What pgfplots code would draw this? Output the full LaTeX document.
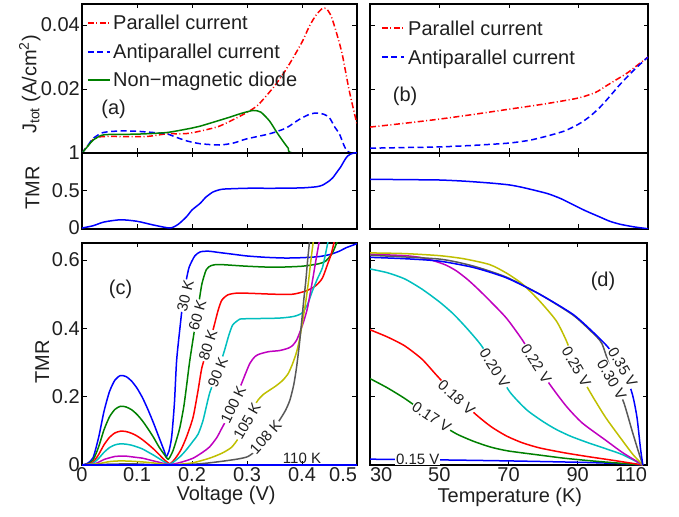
\documentclass[border=0pt]{standalone}
\usepackage{fontspec}
\setmainfont{Liberation Sans}
\usepackage{pgfplots}
\pgfplotsset{compat=1.18}
\definecolor{mblue}{rgb}{0,0,1}
\definecolor{mgreen}{rgb}{0,0.5,0}
\definecolor{mred}{rgb}{1,0,0}
\definecolor{mcyan}{rgb}{0,0.75,0.75}
\definecolor{mmag}{rgb}{0.75,0,0.75}
\definecolor{myel}{rgb}{0.75,0.75,0}
\definecolor{mgray}{rgb}{0.35,0.35,0.35}
\definecolor{txt}{rgb}{0.12,0.12,0.12}
\tikzset{
  clab/.style={font=\fontsize{15}{18}\selectfont, text=txt, fill=white, inner sep=0.8pt},
  plab/.style={text=txt},
  ltxt/.style={anchor=base west, yshift=-7pt, inner sep=0pt, text=txt},
  pdash/.style={dash pattern=on 6pt off 2.5pt on 1pt off 2.5pt},
  adash/.style={dash pattern=on 6pt off 3.5pt},
}
\pgfplotsset{
  base/.style={scale only axis, anchor=south west,
    axis line style={line width=1.1pt, black},
    tick style={line width=0.7pt, black},
    tick align=inside, major tick length=4.5pt,
    every tick label/.append style={text=txt},
    yticklabel style={inner sep=2pt},
    xticklabel style={inner sep=2.5pt},
    every axis label/.append style={text=txt}},
  crv/.style={line width=1.5pt, smooth, tension=0.4},
  lsample/.style={line width=1.6pt, forget plot},
}
\begin{document}
\fontsize{20}{24}\selectfont
\begin{tikzpicture}
\useasboundingbox (0,0) rectangle (679pt,516pt);
% ---------------- (a) J
\begin{axis}[base, at={(82pt,363pt)}, width=275pt, height=149pt,
  xmin=0, xmax=0.5, ymin=0, ymax=0.0466,
  xtick={0.1,0.2,0.3,0.4}, xticklabel=\empty,
  ytick={0.02,0.04}, yticklabels={0.02,0.04},
  ylabel={J\textsubscript{tot} (A/cm\textsuperscript{2})},
  ylabel style={at={(axis description cs:-0.19,0.46)}, anchor=center}]
\addplot[crv, color=mred, pdash] coordinates {
(0,0) (0.01,0.0022) (0.02,0.0042) (0.03,0.0050) (0.05,0.0052) (0.08,0.0051) (0.12,0.0052) (0.154,0.0060) (0.18,0.0060) (0.2,0.0063) (0.245,0.0081) (0.27,0.0100) (0.299,0.0126) (0.32,0.0150) (0.348,0.0205) (0.365,0.0245) (0.383,0.0295) (0.401,0.0350) (0.413,0.0395) (0.425,0.0430) (0.437,0.0452) (0.445,0.0450) (0.453,0.0428) (0.462,0.0380) (0.473,0.0310) (0.486,0.0194) (0.5,0.0090)};
\addplot[crv, color=mblue, adash] coordinates {
(0,0) (0.01,0.0022) (0.02,0.0045) (0.035,0.0062) (0.05,0.0067) (0.075,0.0069) (0.10,0.0068) (0.13,0.0064) (0.154,0.0060) (0.17,0.0050) (0.19,0.0038) (0.215,0.0029) (0.25,0.0025) (0.275,0.0031) (0.299,0.0044) (0.341,0.0060) (0.371,0.0078) (0.395,0.0105) (0.415,0.0122) (0.428,0.0125) (0.44,0.0121) (0.45,0.0110) (0.46,0.0080) (0.468,0.0060) (0.476,0.0025) (0.482,0.0006) (0.49,0) (0.5,0)};
\addplot[crv, color=mgreen] coordinates {
(0,0) (0.01,0.0020) (0.02,0.0040) (0.035,0.0055) (0.05,0.0058) (0.1,0.0059) (0.154,0.0064) (0.2,0.0078) (0.215,0.0084) (0.263,0.0109) (0.29,0.0124) (0.311,0.0133) (0.325,0.0128) (0.341,0.0100) (0.354,0.0065) (0.365,0.0038) (0.375,0.0015) (0.385,0) (0.5,0)};
% legend samples
\addplot[lsample, color=mred, pdash] coordinates {(0.0109,0.04066) (0.0509,0.04066)};
\addplot[lsample, color=mblue, adash] coordinates {(0.0109,0.03159) (0.0509,0.03159)};
\addplot[lsample, color=mgreen] coordinates {(0.0109,0.02283) (0.0509,0.02283)};
\node[ltxt] at (axis cs:0.0564,0.04066) {Parallel current};
\node[ltxt] at (axis cs:0.0564,0.03159) {Antiparallel current};
\node[ltxt] at (axis cs:0.0564,0.02283) {Non−magnetic diode};
\node[plab] at (axis cs:0.0575,0.01375) {(a)};
\end{axis}
% ---------------- (a) TMR
\begin{axis}[base, at={(82pt,287pt)}, width=275pt, height=76pt,
  xmin=0, xmax=0.5, ymin=-0.013, ymax=1,
  xtick={0.1,0.2,0.3,0.4}, xticklabel=\empty,
  ytick={0,0.5,1}, yticklabels={0,0.5,1},
  ylabel={TMR}, ylabel style={at={(axis description cs:-0.18,0.54)}, anchor=center}]
\addplot[crv, color=mblue] coordinates {
(0,0) (0.02,0.03) (0.04,0.08) (0.07,0.11) (0.10,0.09) (0.13,0.04) (0.16,0.0) (0.175,0.05) (0.19,0.15) (0.2,0.24) (0.215,0.33) (0.225,0.41) (0.238,0.48) (0.25,0.51) (0.26,0.52) (0.3,0.53) (0.35,0.53) (0.4,0.535) (0.426,0.55) (0.437,0.57) (0.45,0.63) (0.456,0.67) (0.465,0.76) (0.47,0.81) (0.478,0.91) (0.483,0.96) (0.49,0.99) (0.495,1.0) (0.5,1.0)};
\end{axis}
% ---------------- (b) J
\begin{axis}[base, at={(370pt,363pt)}, width=278pt, height=149pt,
  xmin=30, xmax=110, ymin=0, ymax=0.0466,
  xtick={50,70,90}, xticklabel=\empty,
  ytick={0.02,0.04}, yticklabel=\empty]
\addplot[crv, color=mred, pdash] coordinates {
(30,0.0081) (40,0.0093) (50,0.0106) (60,0.0121) (70,0.0137) (80,0.0153) (90,0.0172) (95,0.0190) (98,0.0210) (101,0.0230) (104,0.0250) (107,0.0275) (110,0.0300)};
\addplot[crv, color=mblue, adash] coordinates {
(30,0.0015) (40,0.0017) (50,0.0019) (60,0.0024) (70,0.0031) (76,0.0040) (81,0.0053) (86,0.0069) (90,0.0090) (93,0.0112) (96,0.0141) (99,0.0177) (102,0.0215) (106,0.0260) (110,0.0300)};
\addplot[lsample, color=mred, pdash] coordinates {(33.45,0.03909) (39.78,0.03909)};
\addplot[lsample, color=mblue, adash] coordinates {(33.45,0.03002) (39.78,0.03002)};
\node[ltxt] at (axis cs:40.94,0.03909) {Parallel current};
\node[ltxt] at (axis cs:40.94,0.03002) {Antiparallel current};
\node[plab] at (axis cs:40.1,0.0178) {(b)};
\end{axis}
% ---------------- (b) TMR
\begin{axis}[base, at={(370pt,287pt)}, width=278pt, height=76pt,
  xmin=30, xmax=110, ymin=-0.013, ymax=1,
  xtick={50,70,90}, xticklabel=\empty,
  ytick={0,0.5,1}, yticklabel=\empty]
\addplot[crv, color=mblue] coordinates {
(30,0.65) (40,0.645) (50,0.64) (57,0.625) (64.5,0.60) (70,0.575) (74,0.54) (81,0.46) (85,0.39) (88.5,0.31) (92,0.23) (96,0.15) (99,0.09) (102,0.05) (106,0.015) (110,-0.01)};
\end{axis}
% ---------------- (c)
\begin{axis}[base, at={(82pt,51pt)}, width=275pt, height=222pt,
  xmin=0, xmax=0.5, ymin=0, ymax=0.65,
  xtick={0,0.1,0.2,0.3,0.4,0.5}, xticklabels={0,0.1,0.2,0.3,0.4,\makebox[0pt][r]{0.5}},
  ytick={0,0.2,0.4,0.6}, yticklabels={0,0.2,0.4,0.6},
  xlabel={Voltage (V)}, xlabel style={at={(axis description cs:0.524,-0.135)}, anchor=center},
  ylabel={TMR}, ylabel style={at={(axis description cs:-0.145,0.464)}, anchor=center}]
\addplot[crv, color=mblue] coordinates {
(0,0) (0.01,0.005) (0.02,0.021) (0.03,0.079) (0.04,0.157) (0.05,0.215) (0.06,0.249) (0.07,0.262) (0.08,0.259) (0.09,0.246) (0.10,0.225) (0.11,0.197) (0.12,0.162) (0.13,0.123) (0.14,0.081) (0.15,0.039) (0.153,0.024) (0.158,0.04) (0.163,0.082) (0.168,0.18) (0.172,0.305) (0.178,0.40) (0.185,0.50) (0.19,0.545) (0.195,0.58) (0.205,0.612) (0.215,0.624) (0.23,0.626) (0.25,0.622) (0.275,0.617) (0.30,0.612) (0.335,0.608) (0.37,0.606) (0.40,0.607) (0.43,0.610) (0.45,0.616) (0.468,0.626) (0.48,0.636) (0.5,0.648)};
\addplot[crv, color=mgreen] coordinates {
(0,0) (0.01,0.003) (0.02,0.014) (0.03,0.052) (0.04,0.103) (0.05,0.141) (0.06,0.163) (0.07,0.172) (0.08,0.170) (0.09,0.162) (0.10,0.148) (0.11,0.129) (0.12,0.106) (0.13,0.081) (0.14,0.053) (0.15,0.03) (0.157,0.017) (0.165,0.04) (0.172,0.075) (0.178,0.11) (0.185,0.17) (0.19,0.23) (0.196,0.306) (0.205,0.40) (0.212,0.47) (0.218,0.53) (0.226,0.572) (0.235,0.584) (0.25,0.587) (0.3,0.582) (0.35,0.579) (0.40,0.582) (0.43,0.589) (0.443,0.597) (0.455,0.62) (0.463,0.65) (0.47,0.68)};
\addplot[crv, color=mred] coordinates {
(0,0) (0.01,0.002) (0.02,0.008) (0.03,0.030) (0.04,0.059) (0.05,0.081) (0.06,0.094) (0.07,0.099) (0.08,0.098) (0.09,0.093) (0.10,0.085) (0.11,0.074) (0.12,0.061) (0.13,0.047) (0.14,0.031) (0.15,0.015) (0.16,0.004) (0.17,0.02) (0.18,0.045) (0.19,0.082) (0.202,0.14) (0.211,0.218) (0.218,0.285) (0.23,0.35) (0.239,0.40) (0.247,0.45) (0.254,0.482) (0.265,0.498) (0.28,0.503) (0.3,0.503) (0.35,0.50) (0.383,0.50) (0.408,0.51) (0.425,0.525) (0.437,0.547) (0.447,0.59) (0.453,0.617) (0.458,0.65) (0.465,0.70)};
\addplot[crv, color=mcyan] coordinates {
(0,0) (0.01,0.001) (0.02,0.005) (0.03,0.019) (0.04,0.037) (0.05,0.051) (0.06,0.059) (0.07,0.062) (0.08,0.061) (0.09,0.058) (0.10,0.053) (0.11,0.047) (0.12,0.038) (0.13,0.029) (0.14,0.019) (0.15,0.009) (0.16,0.002) (0.178,0.024) (0.19,0.045) (0.202,0.07) (0.211,0.09) (0.22,0.13) (0.232,0.21) (0.247,0.275) (0.259,0.335) (0.267,0.38) (0.274,0.41) (0.285,0.425) (0.293,0.428) (0.357,0.43) (0.385,0.435) (0.40,0.445) (0.41,0.47) (0.419,0.51) (0.428,0.545) (0.437,0.577) (0.443,0.62) (0.448,0.66)};
\addplot[crv, color=mmag] coordinates {
(0,0) (0.02,0.002) (0.03,0.008) (0.04,0.016) (0.05,0.021) (0.06,0.025) (0.07,0.026) (0.08,0.026) (0.09,0.024) (0.10,0.022) (0.11,0.02) (0.12,0.016) (0.13,0.012) (0.14,0.008) (0.15,0.004) (0.16,0.001) (0.18,0.008) (0.202,0.02) (0.22,0.038) (0.232,0.053) (0.245,0.08) (0.254,0.107) (0.265,0.14) (0.275,0.175) (0.29,0.238) (0.305,0.297) (0.315,0.318) (0.323,0.325) (0.34,0.332) (0.359,0.335) (0.375,0.342) (0.383,0.35) (0.39,0.365) (0.395,0.384) (0.403,0.42) (0.41,0.46) (0.418,0.53) (0.426,0.606) (0.432,0.66)};
\addplot[crv, color=myel] coordinates {
(0,0) (0.03,0.004) (0.05,0.010) (0.07,0.012) (0.09,0.011) (0.11,0.009) (0.13,0.006) (0.15,0.002) (0.16,0) (0.2,0.006) (0.232,0.02) (0.255,0.035) (0.272,0.052) (0.285,0.08) (0.30,0.128) (0.31,0.163) (0.32,0.19) (0.33,0.207) (0.34,0.218) (0.353,0.232) (0.365,0.248) (0.375,0.268) (0.383,0.297) (0.39,0.33) (0.395,0.364) (0.401,0.42) (0.407,0.48) (0.412,0.54) (0.416,0.597) (0.421,0.66)};
\addplot[crv, color=mgray] coordinates {
(0,0) (0.04,0.002) (0.07,0.003) (0.10,0.003) (0.13,0.001) (0.16,0) (0.2,0.002) (0.23,0.006) (0.26,0.012) (0.285,0.018) (0.302,0.025) (0.318,0.045) (0.335,0.083) (0.348,0.108) (0.359,0.131) (0.37,0.16) (0.378,0.19) (0.385,0.235) (0.39,0.285) (0.395,0.35) (0.399,0.413) (0.403,0.48) (0.407,0.54) (0.41,0.595) (0.414,0.66)};
\addplot[crv, color=mblue] coordinates {(0,0) (0.5,0)};
\node[clab, rotate=76] at (axis cs:0.188,0.495) {30 K};
\node[clab, rotate=74] at (axis cs:0.210,0.437) {60 K};
\node[clab, rotate=72] at (axis cs:0.229,0.35) {80 K};
\node[clab, rotate=68] at (axis cs:0.247,0.272) {90 K};
\node[clab, rotate=64] at (axis cs:0.275,0.177) {100 K};
\node[clab, rotate=60] at (axis cs:0.30,0.128) {105 K};
\node[clab, rotate=48] at (axis cs:0.334,0.082) {108 K};
\node[clab, fill=none, anchor=south, inner sep=0.5pt, yshift=1pt] at (axis cs:0.40,0) {110 K};
\node[plab] at (axis cs:0.07,0.515) {(c)};
\end{axis}
% ---------------- (d)
\begin{axis}[base, at={(370pt,51pt)}, width=277pt, height=222pt,
  xmin=30, xmax=110, ymin=0, ymax=0.65,
  xtick={30,50,70,90,110}, xticklabels={\makebox[0pt][l]{30},50,70,90,\makebox[0pt][r]{110}},
  ytick={0.2,0.4,0.6}, yticklabel=\empty,
  xlabel={Temperature (K)}, xlabel style={at={(axis description cs:0.505,-0.146)}, anchor=center}]
\addplot[crv, color=mblue] coordinates {(30,0.017) (50,0.015) (70,0.012) (90,0.008) (100,0.005) (108.8,0)};
\addplot[crv, color=mgreen] coordinates {(30,0.253) (35,0.226) (40,0.195) (45,0.159) (50,0.122) (55,0.091) (60,0.069) (65,0.052) (70,0.041) (79,0.029) (86,0.02) (93,0.013) (100,0.007) (108.8,0)};
\addplot[crv, color=mred] coordinates {(30,0.396) (35,0.375) (40,0.349) (45,0.310) (49.3,0.262) (55,0.2) (60.8,0.146) (65,0.112) (69.4,0.085) (74,0.065) (79,0.05) (86,0.036) (93.3,0.024) (100,0.014) (108.8,0)};
\addplot[crv, color=mcyan] coordinates {(30,0.574) (35,0.563) (40,0.545) (45,0.515) (50,0.478) (54,0.443) (58,0.40) (62,0.352) (66,0.29) (70.3,0.215) (75.2,0.162) (80,0.127) (83.8,0.104) (88,0.084) (93.3,0.064) (98,0.048) (103,0.03) (108.8,0)};
\addplot[crv, color=mmag] coordinates {(30,0.617) (40,0.613) (45,0.607) (48.7,0.597) (52,0.585) (55,0.568) (58.2,0.543) (61,0.517) (64.5,0.482) (69.4,0.43) (74,0.366) (78,0.3) (81.8,0.238) (86.7,0.172) (91.3,0.123) (98,0.073) (103,0.036) (108.8,0)};
\addplot[crv, color=myel] coordinates {(30,0.621) (40,0.619) (50,0.613) (57,0.604) (64.5,0.587) (69.4,0.562) (74,0.53) (79,0.48) (83.8,0.422) (86.7,0.364) (89.6,0.29) (93.3,0.218) (98,0.14) (102.8,0.073) (106,0.03) (108.8,0)};
\addplot[crv, color=mgray] coordinates {(30,0.614) (50,0.603) (60,0.582) (69.4,0.55) (79,0.50) (88.5,0.44) (94,0.39) (97,0.355) (99.8,0.27) (101.5,0.225) (103.4,0.18) (105.7,0.10) (107.5,0.04) (108.8,0)};
\addplot[crv, color=mblue] coordinates {(30,0.608) (40,0.604) (50,0.597) (60,0.578) (69.4,0.548) (79,0.50) (88.5,0.442) (94,0.393) (98.8,0.344) (103,0.28) (105.7,0.21) (107.1,0.14) (108.1,0.05) (108.8,0)};
\node[clab] at (axis cs:43.8,0.017) {0.15 V};
\node[clab, rotate=-34] at (axis cs:47.8,0.14) {0.17 V};
\node[clab, rotate=-42] at (axis cs:55,0.198) {0.18 V};
\node[clab, rotate=-58] at (axis cs:66,0.283) {0.20 V};
\node[clab, rotate=-57] at (axis cs:78,0.297) {0.22 V};
\node[clab, rotate=-60] at (axis cs:89.6,0.287) {0.25 V};
\node[clab, rotate=-60] at (axis cs:99.8,0.25) {0.30 V};
\node[clab, rotate=-60] at (axis cs:103,0.286) {0.35 V};
\node[plab] at (axis cs:97.3,0.539) {(d)};
\end{axis}
\end{tikzpicture}
\end{document}
